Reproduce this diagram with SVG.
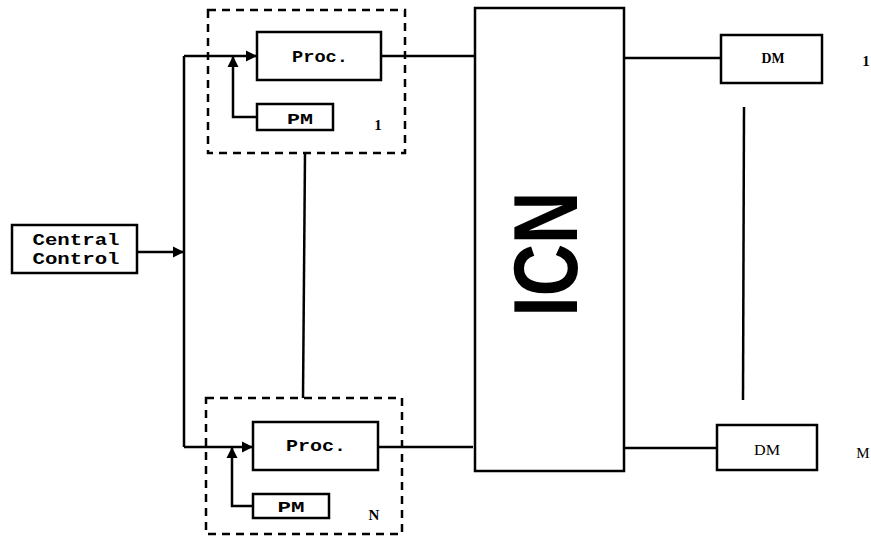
<svg xmlns="http://www.w3.org/2000/svg" width="871" height="548" viewBox="0 0 871 548">
<defs>
<style>
.box{fill:#fff;stroke:#000;stroke-width:2.5}
.dash{fill:none;stroke:#000;stroke-width:2.5;stroke-dasharray:8 6}
.ln{fill:none;stroke:#000;stroke-width:2.5}
.t{font-family:"Liberation Mono",monospace;font-weight:bold;fill:#000;text-anchor:middle}
.num{font-family:"Liberation Serif",serif;font-weight:bold;fill:#000;text-anchor:middle;font-size:15px}
</style>
<marker id="arr" viewBox="0 0 10 10" refX="10" refY="5" markerWidth="4.5" markerHeight="4.5" orient="auto" markerUnits="strokeWidth">
<path d="M0,0 L10,5 L0,10 z" fill="#000"/>
</marker>
</defs>
<rect width="871" height="548" fill="#fff"/>
<g id="connectors">
<line class="ln" x1="137" y1="252" x2="184" y2="252" marker-end="url(#arr)"/>
<polyline class="ln" points="184,56 184,447"/>
<line class="ln" x1="184" y1="56" x2="257" y2="56" marker-end="url(#arr)"/>
<line class="ln" x1="184" y1="447" x2="253" y2="447" marker-end="url(#arr)"/>
<polyline class="ln" points="257,117 233,117 233,56" marker-end="url(#arr)"/>
<polyline class="ln" points="253,506 232,506 232,447" marker-end="url(#arr)"/>
<line class="ln" x1="381" y1="56" x2="476" y2="56"/>
<line class="ln" x1="378" y1="447" x2="473" y2="447"/>
<line class="ln" x1="305" y1="153" x2="303" y2="398"/>
<line class="ln" x1="625" y1="58" x2="721" y2="58"/>
<line class="ln" x1="623" y1="448" x2="717" y2="448"/>
<line class="ln" x1="744" y1="107" x2="743" y2="400"/>
</g>
<g id="central-control">
<rect class="box" x="12" y="225" width="125" height="48"/>
<text class="t" x="76" y="245" font-size="17" textLength="87" lengthAdjust="spacingAndGlyphs">Central</text>
<text class="t" x="76" y="264" font-size="17" textLength="87" lengthAdjust="spacingAndGlyphs">Control</text>
</g>
<g id="group-1">
<rect class="dash" x="208" y="10" width="197" height="143"/>
</g>
<g id="proc-1">
<rect class="box" x="257" y="32" width="124" height="48"/>
<text class="t" x="320" y="62" font-size="16" textLength="56" lengthAdjust="spacingAndGlyphs">Proc.</text>
</g>
<g id="pm-1">
<rect class="box" x="257" y="104" width="76" height="26"/>
<text class="t" x="300" y="124" font-size="15" textLength="26" lengthAdjust="spacingAndGlyphs">PM</text>
<text class="num" x="378" y="130">1</text>
</g>
<g id="group-n">
<rect class="dash" x="206" y="398" width="196" height="136"/>
</g>
<g id="proc-n">
<rect class="box" x="253" y="422" width="125" height="48"/>
<text class="t" x="316" y="451" font-size="16" textLength="60" lengthAdjust="spacingAndGlyphs">Proc.</text>
</g>
<g id="pm-n">
<rect class="box" x="253" y="494" width="76" height="24"/>
<text class="t" x="291" y="512" font-size="15" textLength="27" lengthAdjust="spacingAndGlyphs">PM</text>
<text class="num" x="374" y="520">N</text>
</g>
<g id="icn">
<rect class="box" x="475" y="8" width="149" height="463"/>
<text x="0" y="0" transform="translate(577,254) rotate(-90)" font-family="Liberation Sans,Arial,sans-serif" font-weight="bold" font-size="91" text-anchor="middle" textLength="125" lengthAdjust="spacingAndGlyphs">ICN</text>
</g>
<g id="dm-1">
<rect class="box" x="721" y="35" width="101" height="48"/>
<text x="773" y="63" font-family="Liberation Serif,serif" font-weight="bold" font-size="14" text-anchor="middle" textLength="23" lengthAdjust="spacingAndGlyphs">DM</text>
<text class="num" x="866" y="66">1</text>
</g>
<g id="dm-m">
<rect class="box" x="717" y="425" width="100" height="45"/>
<text x="767" y="455" font-family="Liberation Serif,serif" font-size="14" text-anchor="middle" textLength="26" lengthAdjust="spacingAndGlyphs">DM</text>
<text x="863" y="458" font-family="Liberation Serif,serif" font-size="15" text-anchor="middle">M</text>
</g>
</svg>
